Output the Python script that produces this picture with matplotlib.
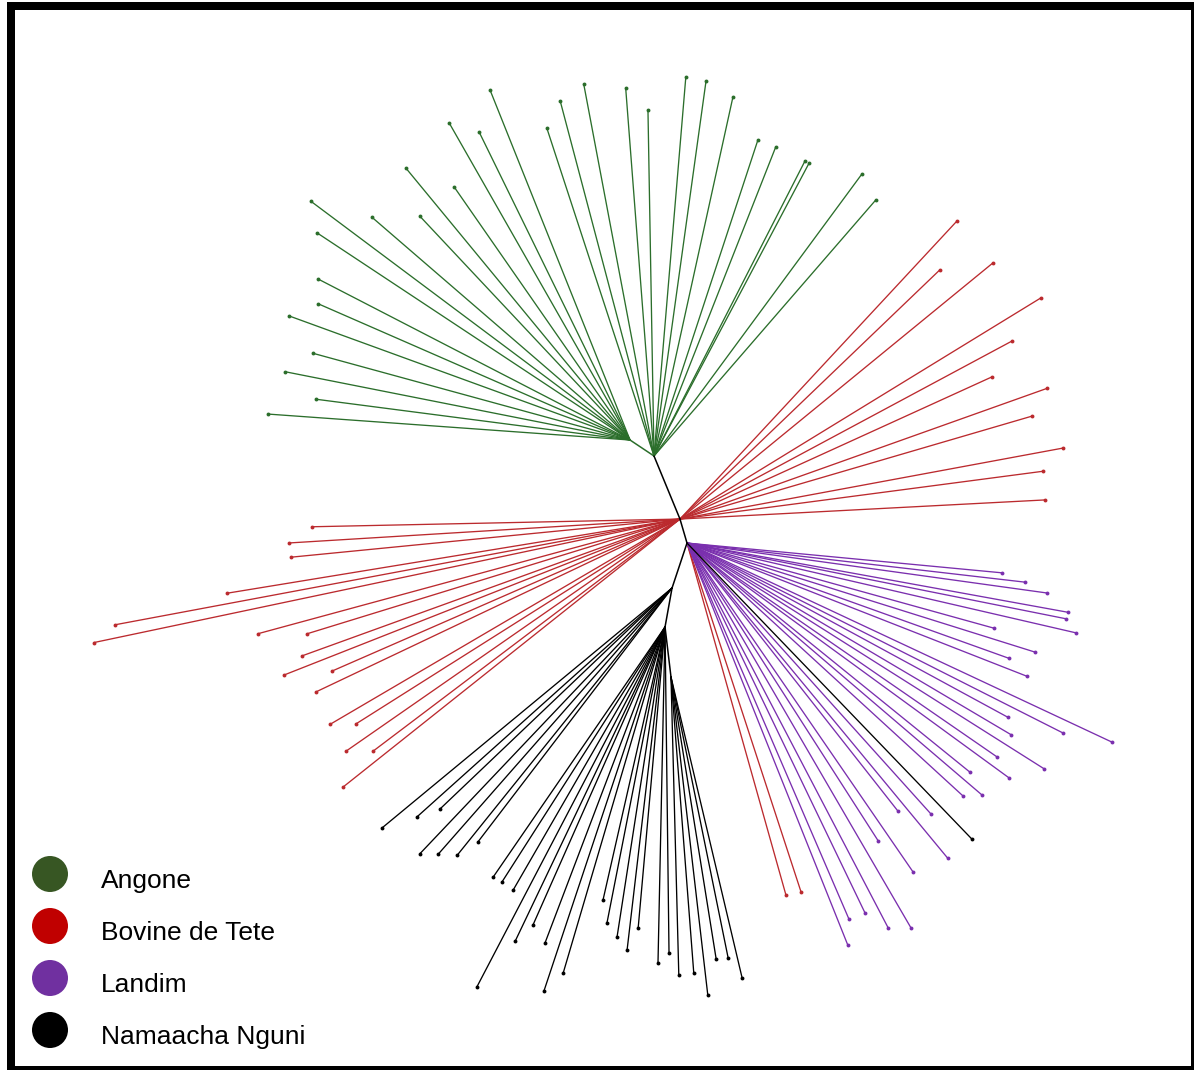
import numpy as np
import matplotlib
matplotlib.use("Agg")
import matplotlib.pyplot as plt
from matplotlib.patches import Rectangle, Circle

# ---- tree data: branch angles (degrees, counter-clockwise) and lengths ----
# internal backbone of the unrooted tree: node, parent, angle, length
backbone_nodes = ["G1", "R", "P", "K", "K2", "K3"]
backbone_parents = ["G", "G", "R", "P", "K", "K2"]
backbone_angles = [146.3, 292.4, 286.3, 251.6, 259.8, 276.8]
backbone_lengths = [28.8, 68.2, 25.0, 47.4, 39.6, 50.4]

angone_parent = ["G1"] * 16 + ["G"] * 14
angone_angle = [111.8, 119.7, 116.1, 129.5, 124.8, 143.2, 139.2, 133.2, 146.5, 152.7,
                156.4, 160.0, 164.7, 168.8, 172.6, 175.9,
                100.7, 94.4, 104.8, 91.0, 108.1, 85.2, 82.1, 77.6, 71.8, 68.5,
                62.9, 62.1, 53.6, 49.1]
angone_length = [377.0, 365.0, 343.0, 352.4, 308.2, 398.6, 341.0, 307.0, 375.3, 351.1,
                 340.4, 362.8, 328.7, 351.6, 316.7, 362.9,
                 378.5, 369.1, 367.2, 346.1, 345.0, 380.3, 378.6, 367.6, 332.7, 332.2,
                 331.4, 331.5, 350.4, 338.9]

tete_parent = ["R"] * 28 + ["P"] * 2
tete_angle = [47.1, 43.8, 39.3, 31.5, 28.2, 24.5, 19.6, 16.3, 10.5, 7.5, 3.0,
              181.2, 183.5, 185.6, 189.3, 190.6, 191.9, 195.2, 197.1, 199.9, 201.5,
              203.6, 205.4, 210.4, 212.3, 214.8, 217.1, 218.5,
              285.7, 288.1]
tete_length = [406.9, 360.0, 404.4, 423.3, 376.7, 342.8, 389.7, 366.8, 389.5, 366.2, 365.5,
               368.1, 391.7, 390.9, 459.0, 574.9, 598.8, 437.4, 390.3, 402.1, 425.6,
               379.7, 403.0, 405.6, 383.4, 406.7, 384.8, 430.6,
               365.7, 367.1]

landim_parent = ["P"] * 30
landim_angle = [-5.4, -6.6, -7.9, -10.3, -11.3, -15.5, -13.0, -17.4, -19.7, -21.4,
                -28.5, -26.8, -25.1, -30.6, -34.6, -32.3, -36.1, -39.0, -42.5, -40.5,
                -51.8, -48.0, -57.3, -50.4, -55.5, -64.3, -66.7, -62.4, -59.8, -68.2]
landim_length = [316.4, 340.2, 363.5, 387.2, 386.5, 318.5, 399.3, 364.7, 341.9, 365.1,
                 365.1, 421.3, 469.3, 376.6, 376.7, 422.5, 398.6, 364.1, 374.4, 388.0,
                 341.1, 364.7, 354.0, 409.1, 399.1, 410.6, 409.4, 434.3, 445.4, 433.0]

nguni_parent = ["K"] * 7 + ["K2"] * 16 + ["K3"] * 6 + ["P"]
nguni_angle = [219.6, 221.9, 223.6, 226.5, 228.7, 231.2, 232.6,
               235.5, 237.4, 240.0, 246.1, 244.5, 249.2, 242.4, 251.6, 253.6, 257.2,
               258.9, 261.2, 263.3, 264.9, 268.8, 270.7,
               271.5, 274.4, 276.6, 279.1, 281.5, 283.3,
               313.9]
nguni_length = [376.4, 342.7, 320.4, 366.4, 354.3, 342.8, 319.6,
                303.5, 302.6, 303.8, 325.9, 348.0, 338.0, 406.1, 383.6, 360.7, 280.0,
                301.6, 313.7, 325.2, 302.2, 336.1, 326.0,
                298.1, 296.9, 320.1, 285.6, 286.7, 309.3,
                410.9]

groups = ["Angone", "Bovine de Tete", "Landim", "Namaacha Nguni"]
line_colors = ["#2b6e2b", "#bb2a2e", "#7a2fae", "#000000"]
legend_colors = ["#375623", "#c00000", "#7030a0", "#000000"]

# ---- figure (units of the axes equal output pixels) ----
W, H = 1194, 1070
fig = plt.figure(figsize=(W / 100, H / 100), dpi=100)
ax = fig.add_axes([0, 0, 1, 1])
ax.set_xlim(0, W)
ax.set_ylim(H, 0)
ax.axis("off")

# position of the tree's central node "G" inside the frame
nodes = {"G": np.array([654.0, 456.0])}


def step(origin, angle, length):
    a = np.deg2rad(angle)
    return origin + length * np.array([np.cos(a), -np.sin(a)])


for name, par, ang, ln in zip(backbone_nodes, backbone_parents,
                              backbone_angles, backbone_lengths):
    nodes[name] = step(nodes[par], ang, ln)
    col = line_colors[0] if name == "G1" else "#000000"
    p0, p1 = nodes[par], nodes[name]
    ax.plot([p0[0], p1[0]], [p0[1], p1[1]], color=col, lw=1.1,
            solid_capstyle="round", zorder=3)

clades = [
    (angone_parent, angone_angle, angone_length),
    (tete_parent, tete_angle, tete_length),
    (landim_parent, landim_angle, landim_length),
    (nguni_parent, nguni_angle, nguni_length),
]

for (parents, angles, lengths), col in zip(clades, line_colors):
    tips = []
    for par, ang, ln in zip(parents, angles, lengths):
        p0 = nodes[par]
        p1 = step(p0, ang, ln)
        ax.plot([p0[0], p1[0]], [p0[1], p1[1]], color=col, lw=0.95,
                solid_capstyle="round", zorder=2)
        tips.append(p1)
    tips = np.array(tips)
    ax.plot(tips[:, 0], tips[:, 1], "o", color=col, ms=2.8, mew=0, zorder=4)

# ---- legend ----
for i, (label, col) in enumerate(zip(groups, legend_colors)):
    cy = 874 + 52 * i
    ax.add_patch(Circle((50, cy), 18, facecolor=col, edgecolor="none", zorder=5))
    ax.text(101, cy + 7, label, fontsize=19, family="Liberation Sans",
            ha="left", va="center", color="black", zorder=5)

# ---- frame ----
ax.add_patch(Rectangle((7, 2), 8, 1068, facecolor="black", edgecolor="none", zorder=6))
ax.add_patch(Rectangle((7, 2), W - 7, 8, facecolor="black", edgecolor="none", zorder=6))
ax.add_patch(Rectangle((W - 3, 2), 3, 1068, facecolor="black", edgecolor="none", zorder=6))
ax.add_patch(Rectangle((7, 1066), W - 7, 4, facecolor="black", edgecolor="none", zorder=6))

fig.savefig("out.png", dpi=100, facecolor="white")
